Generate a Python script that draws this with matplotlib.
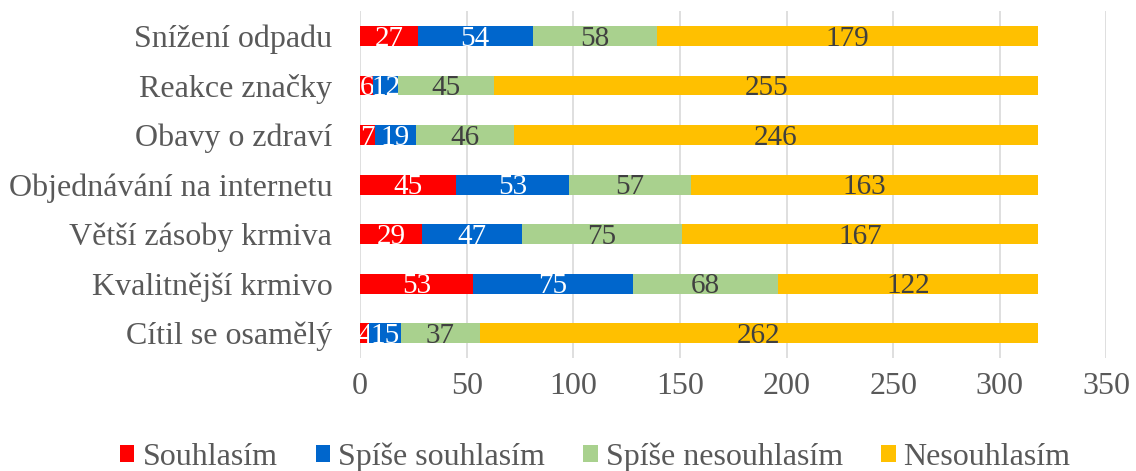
import numpy as np
import matplotlib.pyplot as plt

plt.rcParams['font.family'] = ['Liberation Serif', 'DejaVu Serif']

categories = ['Snížení odpadu', 'Reakce značky', 'Obavy o zdraví',
              'Objednávání na internetu', 'Větší zásoby krmiva',
              'Kvalitnější krmivo', 'Cítil se osamělý']
series = ['Souhlasím', 'Spíše souhlasím', 'Spíše nesouhlasím', 'Nesouhlasím']
souhlasim = [27, 6, 7, 45, 29, 53, 4]
spise_souhlasim = [54, 12, 19, 53, 47, 75, 15]
spise_nesouhlasim = [58, 45, 46, 57, 75, 68, 37]
nesouhlasim = [179, 255, 246, 163, 167, 122, 262]

colors = ['#FF0000', '#0066CC', '#A9D18E', '#FFC000']
label_colors = ['white', 'white', '#404040', '#404040']

fig, ax = plt.subplots(figsize=(11.36, 4.71), dpi=100)
fig.subplots_adjust(left=0.317, right=0.974, top=0.976, bottom=0.240)

y = np.arange(len(categories))[::-1]
left = np.zeros(len(categories))
for vals, name, col, lc in zip([souhlasim, spise_souhlasim, spise_nesouhlasim, nesouhlasim],
                               series, colors, label_colors):
    vals = np.array(vals)
    bars = ax.barh(y, vals, left=left, height=0.4, color=col, label=name, zorder=3)
    texts = ax.bar_label(bars, labels=[str(v) for v in vals], label_type='center',
                         color=lc, fontsize=21)
    # labels sit a bit below bar centre, like in the original
    for t in texts:
        t.xyann = (0, -2)
    left += vals

ax.set_xlim(0, 350)
ax.set_ylim(-0.5, len(categories) - 0.5)
ax.set_xticks(np.arange(0, 351, 50))
ax.set_yticks(y)
ax.set_yticklabels(categories, fontsize=23, color='#595959')
ax.tick_params(axis='x', labelsize=23, labelcolor='#595959', length=0, pad=10)
ax.tick_params(axis='y', length=0, pad=20)
ax.grid(axis='x', color='#D9D9D9', linewidth=1.2, zorder=0)
for s in ax.spines.values():
    s.set_visible(False)

fig.legend(loc='center', bbox_to_anchor=(0.524, 0.029), ncol=4, frameon=False,
           fontsize=23, handlelength=0.45, handleheight=0.45, handletextpad=0.25,
           columnspacing=1.2, labelcolor='#595959', borderaxespad=0)

fig.savefig('out.png', dpi=100)
